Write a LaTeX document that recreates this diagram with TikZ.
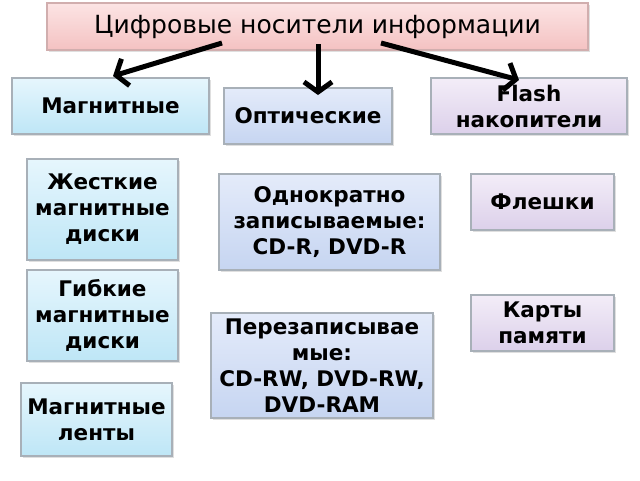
\documentclass[tikz,border=0pt]{standalone}
\usepackage{fontspec}
\setmainfont{DejaVu Sans}
\usetikzlibrary{arrows.meta,shadows}
\definecolor{bluetop}{HTML}{E6F6FD}
\definecolor{bluebot}{HTML}{BEE6F6}
\definecolor{opttop}{HTML}{E4EBFA}
\definecolor{optbot}{HTML}{C6D5F1}
\definecolor{flashtop}{HTML}{F3EDF8}
\definecolor{flashbot}{HTML}{DCD0EA}
\definecolor{titletop}{HTML}{FCE4E4}
\definecolor{titlebot}{HTML}{F4C2C2}
\definecolor{boxline}{HTML}{A8B0B8}
\begin{document}
\begin{tikzpicture}[x=1pt,y=-1pt,
  box/.style={draw=boxline, line width=1.2pt, rectangle, align=center, inner sep=0pt,
    drop shadow={opacity=0.25, shadow xshift=2pt, shadow yshift=-2pt},
    font=\fontsize{21.5}{26}\selectfont\bfseries},
  bluebox/.style={box, top color=bluetop, bottom color=bluebot},
  optbox/.style={box, top color=opttop, bottom color=optbot},
  flashbox/.style={box, top color=flashtop, bottom color=flashbot},
  titlebox/.style={box, draw=titlebot!70!gray, top color=titletop, bottom color=titlebot,
    font=\fontsize{25}{30}\selectfont},
  arr/.style={line width=5pt, -{Straight Barb[length=10pt,width=28pt,line width=5pt]}}
]
\useasboundingbox (0,0) rectangle (640,480);
\fill[white] (0,0) rectangle (640,480);

\node[titlebox, minimum width=541pt, minimum height=47pt] (title) at (317.5,26.5) {Цифровые носители информации};

\node[bluebox, minimum width=197pt, minimum height=56pt] (mag) at (110.5,106) {Магнитные};
\node[optbox, minimum width=168pt, minimum height=56pt] (opt) at (308,116) {Оптические};
\node[flashbox, minimum width=196pt, minimum height=56pt] (flash) at (529,106) {Flash\\накопители};

\node[bluebox, minimum width=151pt, minimum height=101pt] (hard) at (102.5,209.5) {Жесткие\\магнитные\\диски};
\node[bluebox, minimum width=151pt, minimum height=91pt] (floppy) at (102.5,315.5) {Гибкие\\магнитные\\диски};
\node[bluebox, minimum width=151pt, minimum height=73pt] (tape) at (96.5,419.5) {Магнитные\\ленты};

\node[optbox, minimum width=221pt, minimum height=96pt] (once) at (329.5,222) {Однократно\\записываемые:\\ CD-R, DVD-R};
\node[optbox, minimum width=222pt, minimum height=105pt] (rw) at (322,365.5) {Перезаписывае\\мые:\\CD-RW, DVD-RW,\\DVD-RAM};

\node[flashbox, minimum width=143pt, minimum height=56pt] (fl) at (542.5,202) {Флешки};
\node[flashbox, minimum width=143pt, minimum height=56pt] (cards) at (542.5,323) {Карты\\памяти};

\coordinate (s1) at (222,43);
\coordinate (s2) at (318,44);
\coordinate (s3) at (381,43);
\coordinate (e1) at (113,76);
\coordinate (e2) at (318,95);
\coordinate (e3) at (519,80);
\draw[arr] (s1) -- (e1);
\draw[arr] (s2) -- (e2);
\draw[arr] (s3) -- (e3);
\end{tikzpicture}
\end{document}
